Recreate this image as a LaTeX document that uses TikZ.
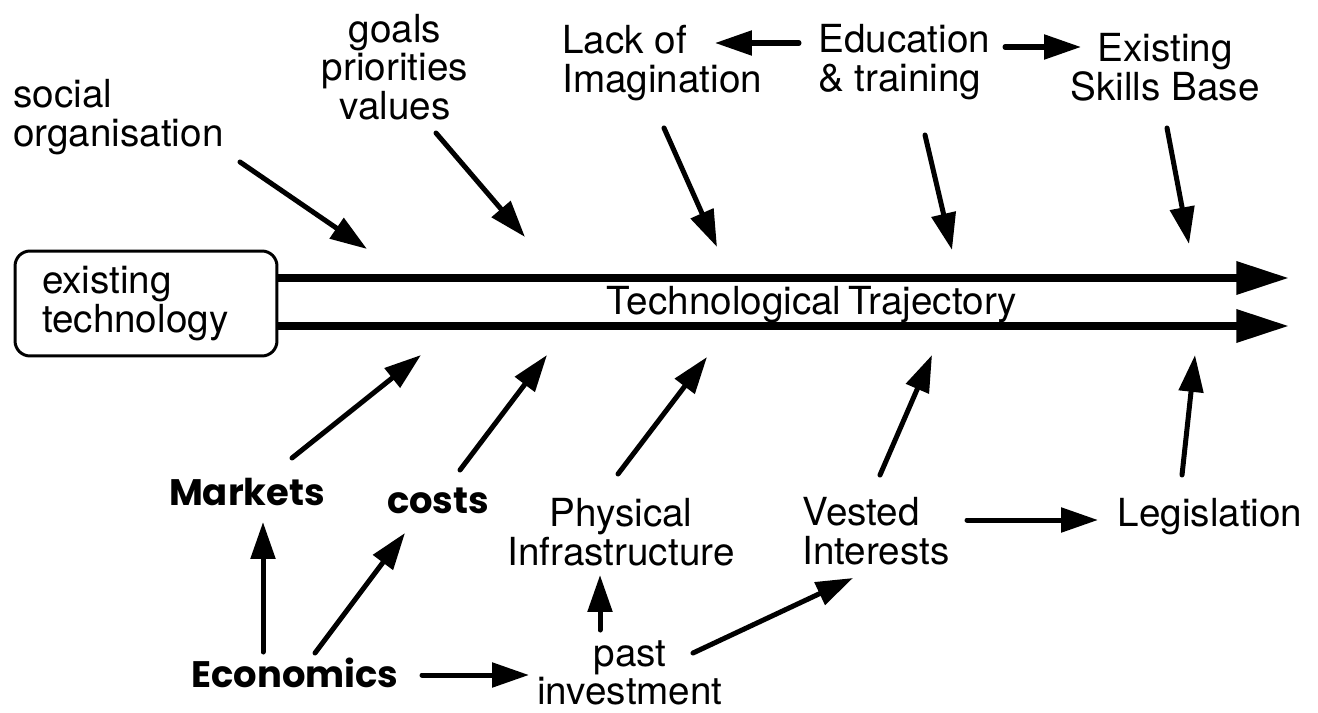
\documentclass[tikz,border=0pt]{standalone}
\usepackage{fontspec}
\setmainfont{TeX Gyre Heros}
\newfontfamily\geofont{Poppins}
\usetikzlibrary{arrows.meta}

\begin{document}
\begin{tikzpicture}[x=0.02cm,y=-0.02cm,
	every node/.style={font=\fontsize{22}{22}\selectfont,inner sep=0pt},
	box/.style={draw,line width=1.7pt,rounded corners=0.3cm,align=left,text width=4.16cm,inner xsep=0.54cm,minimum height=2.1cm},
	bold/.style={font=\geofont\bfseries\fontsize{21}{22}\selectfont},
	arr/.style={line width=2.85pt,line cap=round,-{Triangle[length=21pt,width=13.7pt]}},
	traj/.style={line width=4.5pt,-{Triangle[length=30pt,width=18pt]}}]
\useasboundingbox (0,0) rectangle (1318,713);

\node[box] (exist) at (146,303.5) {existing\\technology};
\coordinate (u) at (1289,278);
\coordinate (l) at (1289,326);
\draw[traj] (exist.east |- u) -- (u);
\draw[traj] (exist.east |- l) -- (l);
\node (traj) at (812,305) {Technological\hspace{4pt}Trajectory};

\node[anchor=west,align=left] (soc) at (13,117) {social\\organisation};
\node[align=center] (goals) at (395,67) {goals\\priorities\\values};
\node[anchor=west,align=left] (lack) at (562,63) {Lack of\\Imagination};
\node[anchor=west,align=left] (edu) at (818,62) {Education\\\& training};
\node[align=center] (skills) at (1165,67) {Existing\\Skills Base};

\node[bold,anchor=base] (mark) at (247,505) {Markets};
\node[bold,anchor=base] (costs) at (438,513) {costs};
\node[bold,anchor=base] (econ) at (295,687) {Economics};
\node[align=center] (phys) at (621,532) {Physical\\Infrastructure};
\node[align=center] (past) at (630,673) {past\\investment};
\node[anchor=west,align=left] (vest) at (802,531) {Vested\\Interests};
\node[anchor=base] (legis) at (1210,526) {Legislation};

\coordinate (s1) at (367,249);
\coordinate (s2) at (525,237);
\coordinate (s3) at (717,247);
\coordinate (s4) at (952,250);
\coordinate (s5) at (1189,244);
\coordinate (b1) at (421,355);
\coordinate (b2) at (547,355);
\coordinate (b3) at (707,357);
\coordinate (b4) at (932,355);
\coordinate (b5) at (1195,355);

\draw[arr] ([shift={(227,45)}]soc.west) -- (s1);
\draw[arr] ([shift={(41,66)}]goals.center) -- (s2);
\draw[arr] ([shift={(102,65)}]lack.west) -- (s3);
\draw[arr] ([shift={(107,73)}]edu.west) -- (s4);
\draw[arr] ([shift={(2,61)}]skills.center) -- (s5);
\draw[arr] ([shift={(-19,-19)}]edu.west) -- ([shift={(153,-20)}]lack.west);
\draw[arr] ([shift={(187,-15)}]edu.west) -- ([shift={(-84,-20)}]skills.center);

\draw[arr] ([shift={(45,-47)}]mark.base) -- (b1);
\draw[arr] ([shift={(22,-43)}]costs.base) -- (b2);
\draw[arr] ([shift={(-3,-58)}]phys.center) -- (b3);
\draw[arr] ([shift={(78,-56)}]vest.west) -- (b4);
\draw[arr] ([shift={(-28,-51)}]legis.base) -- (b5);
\draw[arr] ([shift={(-32,-35)}]econ.base) -- ([shift={(16,17)}]mark.base);
\draw[arr] ([shift={(20,-34)}]econ.base) -- ([shift={(-33,20)}]costs.base);
\draw[arr] ([shift={(127,-12)}]econ.base) -- ([shift={(-101,2)}]past.center);
\draw[arr] ([shift={(-30,-43)}]past.center) -- ([shift={(-21,43)}]phys.center);
\draw[arr] ([shift={(63,-20)}]past.center) -- ([shift={(51,47)}]vest.west);
\draw[arr] ([shift={(165,-11)}]vest.west) -- ([shift={(-112,-6)}]legis.base);
\end{tikzpicture}
\end{document}
